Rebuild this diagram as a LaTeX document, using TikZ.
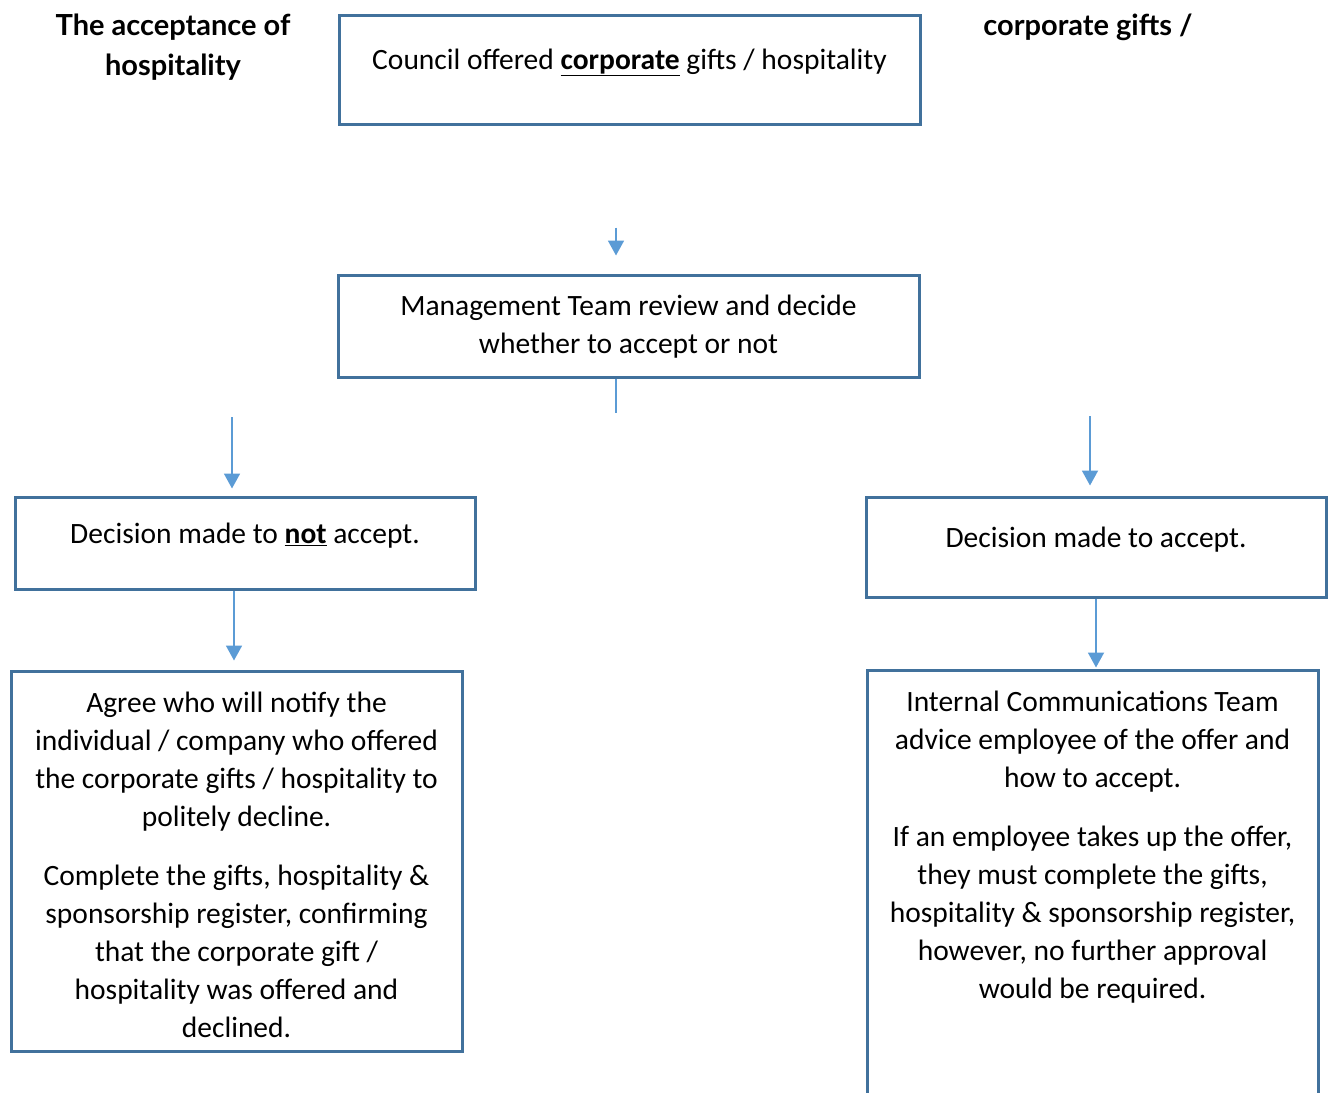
\documentclass[tikz,border=0pt]{standalone}
\usepackage{fontspec}
\setmainfont{Carlito}
\newfontfamily\titlefont{Lato}
\usetikzlibrary{arrows.meta}
\definecolor{boxline}{HTML}{41719C}
\definecolor{arrline}{HTML}{5B9BD5}

\begin{document}
\begin{tikzpicture}
    [x=1pt,y=-1pt,
     box/.style={rectangle,draw=boxline,line width=3pt,inner sep=0pt},
     txt/.style={anchor=north,align=center,inner sep=0pt,
                 font=\fontsize{29.5}{38}\selectfont},
     ttl/.style={align=center,inner sep=0pt,font=\titlefont\bfseries\fontsize{29}{40}\selectfont},
     arr/.style={draw=arrline,line width=1.8pt,-{Triangle[length=15pt,width=16pt]}}]
    \clip (0,0) rectangle (1330,1092);
    \node (offer)  at (629.5,69.5) [box,minimum width=581pt,minimum height=109pt] {};
    \node (review) at (628.5,326)  [box,minimum width=581pt,minimum height=102pt] {};
    \node (nodecl) at (245,543)    [box,minimum width=460pt,minimum height=92pt] {};
    \node (acc)    at (1096,547)   [box,minimum width=460pt,minimum height=100pt] {};
    \node (notify) at (236.5,861)  [box,minimum width=451pt,minimum height=380pt] {};
    \node (advise) at (1092.5,895) [box,minimum width=451pt,minimum height=450pt] {};
    \node [txt] at ([yshift=-35]offer.north)
      {Council offered \underline{\textbf{corporate}} gifts / hospitality};
    \node [txt] at ([yshift=-21]review.north)
      {Management Team review and decide\\whether to accept or not};
    \node [txt] at ([yshift=-27]nodecl.north)
      {Decision made to \underline{\textbf{not}} accept.};
    \node [txt] at ([yshift=-31]acc.north)
      {Decision made to accept.};
    \node [txt] at ([yshift=-22]notify.north)
      {Agree who will notify the\\individual / company who offered\\the corporate gifts / hospitality to\\politely decline.\\[21pt]
       Complete the gifts, hospitality \&\\sponsorship register, confirming\\that the corporate gift /\\hospitality was offered and\\declined.};
    \node [txt] at ([yshift=-22]advise.north)
      {Internal Communications Team\\advice employee of the offer and\\how to accept.\\[21pt]
       If an employee takes up the offer,\\they must complete the gifts,\\hospitality \& sponsorship register,\\however, no further approval\\would be required.};
    \node (title) at (173,47) [ttl] {The acceptance of\\hospitality};
    \node (titleb) at (1088,27) [ttl] {corporate gifts /};
    % connectors
    \coordinate (split) at (616,413);
    \coordinate (lefttop) at (232,417);
    \coordinate (righttop) at (1090,416);
    \draw [arr] ([xshift=-13.5,yshift=-102]offer.south) -- ([xshift=-12.5,yshift=18]review.north);
    \draw [draw=arrline,line width=1.8pt] (review.south -| split) -- (split);
    \draw [arr] (lefttop) -- ([yshift=7]nodecl.north -| lefttop);
    \draw [arr] (righttop) -- ([yshift=10]acc.north -| righttop);
    \draw [arr] ([xshift=-11]nodecl.south) -- ([xshift=-2.5,yshift=9]notify.north);
    \draw [arr] (acc.south) -- ([xshift=3.5,yshift=1]advise.north);
\end{tikzpicture}
\end{document}
